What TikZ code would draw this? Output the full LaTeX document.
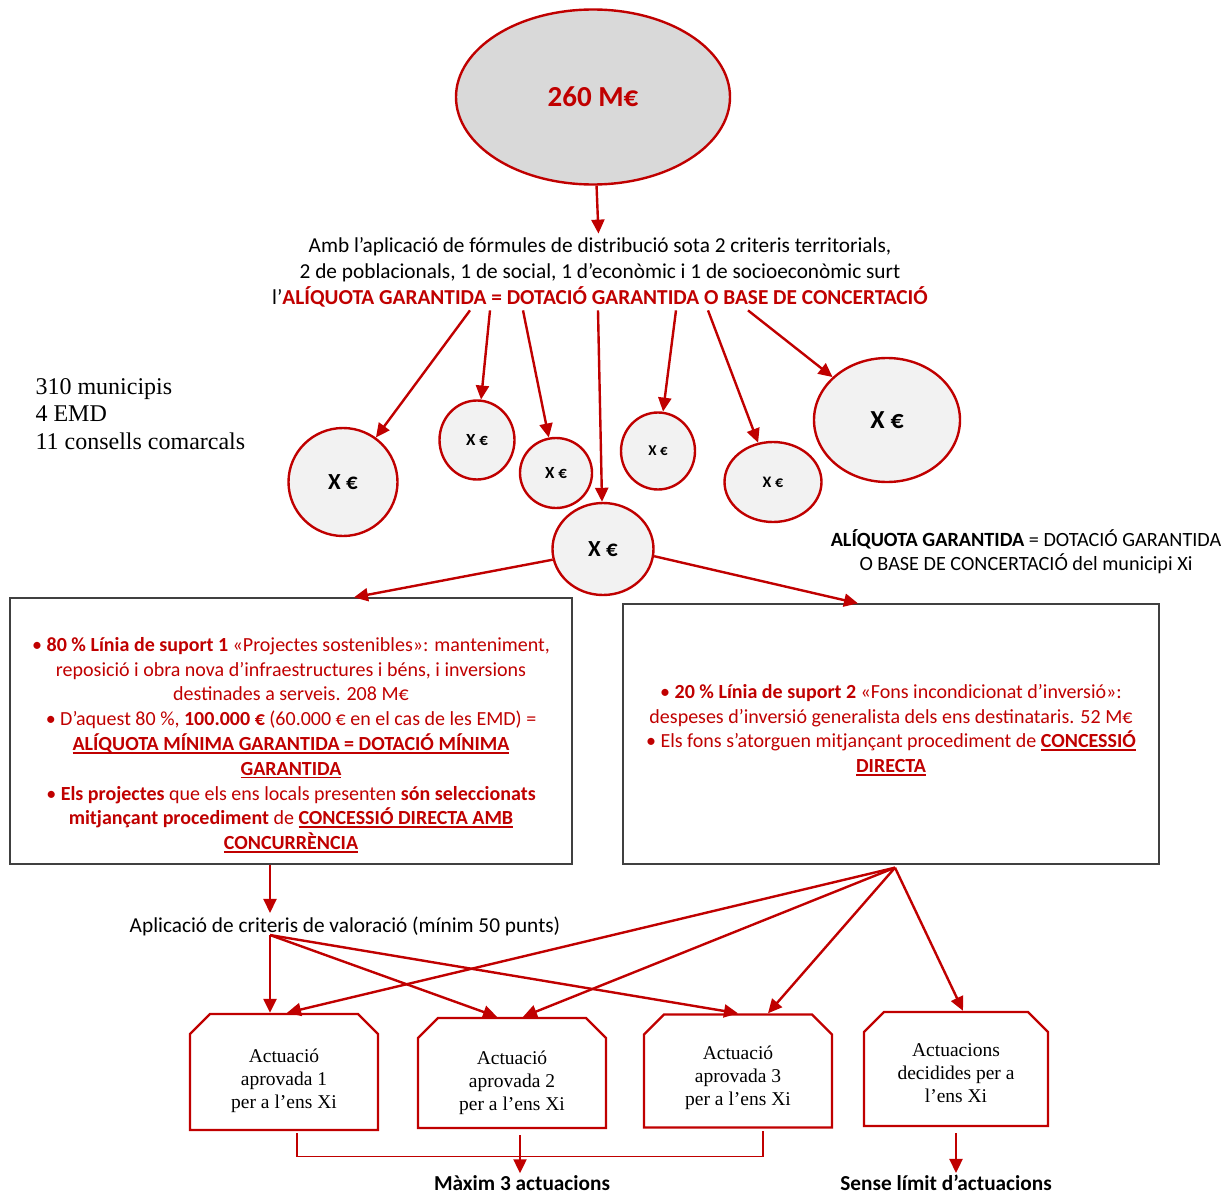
\documentclass[tikz,border=0pt]{standalone}
\usepackage{fontspec}
\setmainfont{Carlito}
\newfontfamily\serifface{Liberation Serif}
\usetikzlibrary{arrows.meta}
\usetikzlibrary{shapes.geometric}
\usetikzlibrary{shapes.misc}
\definecolor{color_red}{HTML}{C00000}
\definecolor{color_total_bg}{HTML}{D9D9D9}
\definecolor{color_amount_bg}{HTML}{F2F2F2}
\definecolor{color_box_border}{HTML}{404040}
\def\redlinewidth{2.4pt}
\def\bodysize{\fontsize{21.3}{26}\selectfont}
\def\boxsize{\fontsize{20}{24.8}\selectfont}
\def\notesize{\fontsize{20.2}{24}\selectfont}
\def\actsize{\serifface\fontsize{19.5}{23}\selectfont}
\def\acttop#1{\rule{0pt}{#1}}
\def\redbf#1{{\bfseries #1}}
\newsavebox{\ulbox}
\def\redul#1{\sbox{\ulbox}{\bfseries #1}\rlap{\rule[-3.2pt]{\wd\ulbox}{1.6pt}}\usebox{\ulbox}}

\begin{document}
\begin{tikzpicture}[x=1pt,y=-1pt,
    redarrow/.style={color_red, line width=\redlinewidth, -{Triangle[length=14pt,width=13pt]}},
    amount/.style={ellipse, draw=color_red, line width=\redlinewidth, fill=color_amount_bg, inner sep=0pt},
    linebox/.style={rectangle, draw=color_box_border, line width=1.3pt},
    actbox/.style={chamfered rectangle, chamfered rectangle corners={north east,north west},
        chamfered rectangle xsep=10pt, chamfered rectangle ysep=10pt,
        draw=color_red, line width=\redlinewidth, inner sep=0pt, align=center, font=\actsize}]
        \useasboundingbox (0,0) rectangle (1224,1196);
        % the total budget
        \node[amount, fill=color_total_bg, minimum width=274pt, minimum height=175pt,
            text=color_red, font=\bfseries\fontsize{29}{29}\selectfont] (total) at (593,97) {260 M€};
        \node[align=center, font=\bodysize] (distext) at (600,272) {Amb l’aplicació de fórmules de distribució sota 2 criteris territorials,\\
            2 de poblacionals, 1 de social, 1 d’econòmic i 1 de socioeconòmic surt\\
            l’{\color{color_red}\bfseries ALÍQUOTA GARANTIDA = DOTACIÓ GARANTIDA O BASE DE CONCERTACIÓ}};
        \draw[redarrow] (total) -- (distext);
        % the amounts of each local body
        \node[amount, minimum width=109pt, minimum height=108pt, font=\bfseries\fontsize{23}{23}\selectfont] (xa) at (343,482) {X €};
        \node[amount, minimum width=75pt, minimum height=79pt, font=\bfseries\fontsize{17}{17}\selectfont] (xb) at (477,440) {X €};
        \node[amount, minimum width=72pt, minimum height=70pt, font=\bfseries\fontsize{17}{17}\selectfont] (xc) at (556,473) {X €};
        \node[amount, minimum width=101pt, minimum height=92pt, font=\bfseries\fontsize{23}{23}\selectfont] (xd) at (603,549) {X €};
        \node[amount, minimum width=74pt, minimum height=77pt, font=\bfseries\fontsize{15}{15}\selectfont] (xe) at (658,451) {X €};
        \node[amount, minimum width=97pt, minimum height=80pt, font=\bfseries\fontsize{16}{16}\selectfont] (xf) at (773,482) {X €};
        \node[amount, minimum width=146pt, minimum height=124pt, font=\bfseries\fontsize{26}{26}\selectfont] (xg) at (887,420) {X €};
        \foreach \dx/\target in {-130/xa, -110/xb, -77/xc, -2/xd, 76/xe, 108/xf, 148/xg}
            \draw[redarrow] ([xshift=\dx pt]distext.south) -- (\target);
        % who receives it
        \node[anchor=west, align=left, font=\serifface\fontsize{24}{27.5}\selectfont] (bodies) at (32,414) {310 municipis\\4 EMD\\11 consells comarcals};
        \node[align=center, font=\notesize] (note) at (1026,552) {{\bfseries ALÍQUOTA GARANTIDA} = DOTACIÓ GARANTIDA\\
            O BASE DE CONCERTACIÓ del municipi Xi};
        % the two support lines
        \node[linebox, minimum width=562pt, minimum height=266pt] (lbox) at (291,731) {};
        \node[align=center, text=color_red, font=\boxsize] (ltext) at ([yshift=-14pt]lbox.center) {%
            • \redbf{80 \% Línia de suport 1} «Projectes sostenibles»: manteniment,\\
            reposició i obra nova d’infraestructures i béns, i inversions\\
            destinades a serveis. 208 M€\\
            • D’aquest 80 \%, \redbf{100.000 €} (60.000 € en el cas de les EMD) =\\
            \redul{ALÍQUOTA MÍNIMA GARANTIDA = DOTACIÓ MÍNIMA}\\
            \redul{GARANTIDA}\\
            • \redbf{Els projectes} que els ens locals presenten \redbf{són seleccionats}\\
            \redbf{mitjançant procediment} de \redul{CONCESSIÓ DIRECTA AMB}\\
            \redul{CONCURRÈNCIA}};
        \node[linebox, minimum width=536pt, minimum height=260pt] (rbox) at (891,734) {};
        \node[align=center, text=color_red, font=\boxsize] (rtext) at ([yshift=4pt]rbox.center) {%
            • \redbf{20 \% Línia de suport 2} «Fons incondicionat d’inversió»:\\
            despeses d’inversió generalista dels ens destinataris. 52 M€\\
            • Els fons s’atorguen mitjançant procediment de \redul{CONCESSIÓ}\\
            \redul{DIRECTA}};
        \draw[redarrow] (xd.192) -- ([xshift=63pt]lbox.north);
        \draw[redarrow] (xd.-8) -- ([xshift=-33pt]rbox.north);
        % valuation and approved actions
        \node[font=\bodysize] (valtext) at (345,926) {Aplicació de criteris de valoració (mínim 50 punts)};
        \coordinate (valsrc) at ([xshift=-75pt, yshift=4pt]valtext.south);
        \draw[redarrow] (lbox.south -| valsrc) -- (valtext.north -| valsrc);
        \node[actbox, minimum width=188pt, minimum height=116pt] (actu1) at (284,1072) {\acttop{31pt}Actuació\\aprovada 1\\per a l’ens Xi};
        \node[actbox, minimum width=188pt, minimum height=110pt] (actu2) at (512,1073) {\acttop{33pt}Actuació\\aprovada 2\\per a l’ens Xi};
        \node[actbox, minimum width=188pt, minimum height=113pt] (actu3) at (738,1071) {\acttop{28pt}Actuació\\aprovada 3\\per a l’ens Xi};
        \node[actbox, minimum width=184pt, minimum height=114pt] (actu4) at (956,1069) {\acttop{22pt}Actuacions\\decidides per a\\l’ens Xi};
        \foreach \target/\dx in {actu1/-14, actu2/-15, actu3/0}
            \draw[redarrow] (valsrc) -- ([xshift=\dx pt]\target.north);
        \coordinate (rsrc) at ([xshift=4pt, yshift=-3pt]rbox.south);
        \foreach \target/\dx in {actu1/3, actu2/11, actu3/30, actu4/7}
            \draw[redarrow] (rsrc) -- ([xshift=\dx pt]\target.north);
        % limits
        \draw[color_red, line width=1.2pt] ([xshift=13pt, yshift=-2pt]actu1.south) -- ++(0,23) -| ([xshift=25pt, yshift=-2pt]actu3.south);
        \node[inner sep=2pt, font=\bfseries\bodysize] (maxim) at (522,1183) {Màxim 3 actuacions};
        \node[inner sep=2pt, font=\bfseries\bodysize] (sense) at (946,1183) {Sense límit d’actuacions};
        \draw[redarrow, shorten <=6pt] ([xshift=8pt]actu2.south) -- ([xshift=8pt]actu2.south |- maxim.north);
        \draw[redarrow, shorten <=6pt] (actu4.south) -- (actu4.south |- sense.north);
\end{tikzpicture}
\end{document}
